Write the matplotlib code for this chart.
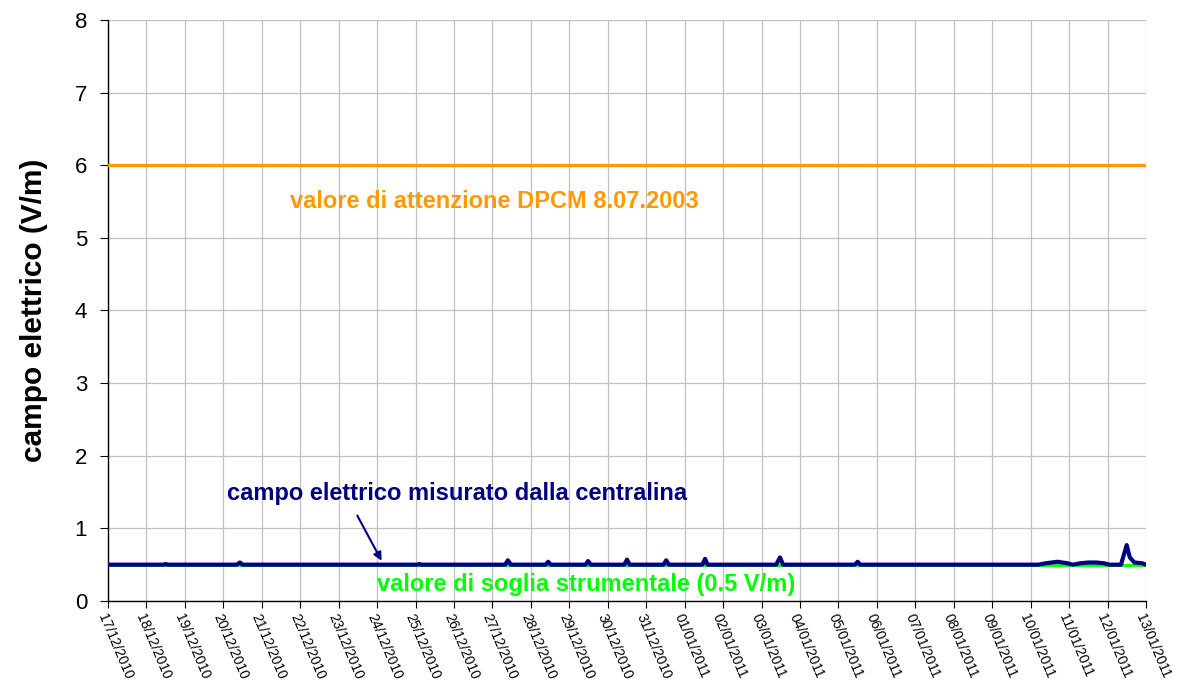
import matplotlib
matplotlib.use('Agg')
import matplotlib.pyplot as plt

plt.rcParams['font.family'] = ['Liberation Sans', 'DejaVu Sans']

# day offsets from 17/12/2010
tick_labels = ['17/12/2010', '18/12/2010', '19/12/2010', '20/12/2010', '21/12/2010',
               '22/12/2010', '23/12/2010', '24/12/2010', '25/12/2010', '26/12/2010',
               '27/12/2010', '28/12/2010', '29/12/2010', '30/12/2010', '31/12/2010',
               '01/01/2011', '02/01/2011', '03/01/2011', '04/01/2011', '05/01/2011',
               '06/01/2011', '07/01/2011', '08/01/2011', '09/01/2011', '10/01/2011',
               '11/01/2011', '12/01/2011', '13/01/2011']

attention_value = 6.0
threshold_value = 0.5
span_days = [0, 27]

meas_days = [0.0, 1.45, 1.5, 1.55, 3.35, 3.43, 3.5, 8.05, 8.1, 8.15,
             10.33, 10.4, 10.48, 11.38, 11.45, 11.52, 12.42, 12.49, 12.56,
             13.43, 13.5, 13.57, 14.45, 14.52, 14.59, 15.46, 15.53, 15.6,
             17.38, 17.48, 17.56, 19.43, 19.5, 19.57,
             24.2, 24.4, 24.7, 24.95, 25.1, 25.3, 25.5, 25.7, 25.9, 26.05,
             26.35, 26.45, 26.5, 26.58, 26.7, 26.9, 27.0]
meas_values = [0.5, 0.5, 0.51, 0.5, 0.5, 0.53, 0.5, 0.5, 0.51, 0.5,
               0.5, 0.56, 0.5, 0.5, 0.54, 0.5, 0.5, 0.55, 0.5,
               0.5, 0.57, 0.5, 0.5, 0.56, 0.5, 0.5, 0.58, 0.5,
               0.5, 0.6, 0.5, 0.5, 0.54, 0.5,
               0.5, 0.52, 0.54, 0.52, 0.5, 0.52, 0.53, 0.53, 0.52, 0.5,
               0.5, 0.68, 0.77, 0.6, 0.53, 0.52, 0.5]

navy = '#000080'
orange = '#FF9900'
green = '#00FF00'

fig = plt.figure(figsize=(11.82, 6.87), dpi=100)
ax = fig.add_axes([0.0914, 0.1252, 0.8781, 0.8457])

ax.plot(span_days, [attention_value] * 2, color=orange, lw=2.4, zorder=3)
ax.plot(span_days, [threshold_value] * 2, color=green, lw=2.0, zorder=3)
ax.plot(meas_days, meas_values, color=navy, lw=3.0, zorder=4, solid_joinstyle='round')

ax.set_xlim(0, 27)
ax.set_ylim(0, 8)
ax.set_xticks(range(len(tick_labels)))
ax.set_xticklabels(tick_labels, rotation=-67, ha='left', va='top',
                   rotation_mode='anchor', fontsize=10)
ax.set_yticks(range(9))
ax.tick_params(axis='y', labelsize=16, length=6, direction='out', pad=9)
ax.tick_params(axis='x', length=5, direction='out', pad=3)
ax.grid(True, color='#c0c0c0', lw=0.9)
ax.set_axisbelow(True)
for s in ['top', 'right']:
    ax.spines[s].set_visible(False)
ax.spines['left'].set_linewidth(1.0)
ax.spines['bottom'].set_linewidth(1.0)

ax.set_ylabel('campo elettrico (V/m)', fontsize=21.5, fontweight='bold', labelpad=19)

ax.text(4.73, 5.5, 'valore di attenzione DPCM 8.07.2003', color=orange,
        fontsize=17, fontweight='bold', va='center', ha='left')
ax.text(7.0, 0.23, 'valore di soglia strumentale (0.5 V/m)', color=green,
        fontsize=17, fontweight='bold', va='center', ha='left')
ax.text(3.1, 1.48, 'campo elettrico misurato dalla centralina', color=navy,
        fontsize=17, fontweight='bold', va='center', ha='left')
ax.annotate('', xy=(7.15, 0.52), xytext=(6.45, 1.21),
            arrowprops=dict(arrowstyle='-|>', color=navy, lw=1.5, mutation_scale=12))

fig.savefig('out.png', dpi=100)
